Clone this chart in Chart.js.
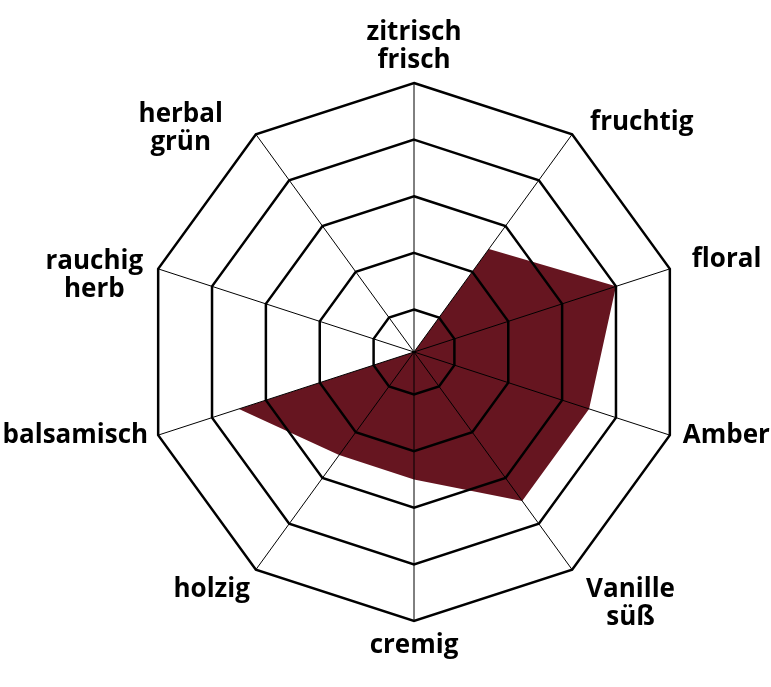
<!DOCTYPE html>
<html>
<head>
<meta charset="utf-8">
<script src="https://cdn.jsdelivr.net/npm/chart.js@4.4.1/dist/chart.umd.min.js"></script>
<style>
  html, body { margin: 0; padding: 0; background: #fff; }
  #wrap { width: 771px; height: 687px; }
</style>
</head>
<body>
<div id="wrap"><canvas id="radar"></canvas></div>
<script>
const labels = [["zitrisch", "frisch"], "fruchtig", "floral", "Amber", ["Vanille", "süß"],
  "cremig", "holzig", "balsamisch", ["rauchig", "herb"], ["herbal", "grün"]];
const values = [0, 2.5, 4, 3.5, 3.5, 2.5, 2.5, 3.5, 0, 0];
const tickValues = [1, 2, 3, 4, 5];
const scaleMin = 0.25;
const scaleMax = 5;

// label placement around each vertex: gap to the near text edge, first baseline offset
const labelGap = [0, 18, 22, 13, 14, 0, 6, 10, 15, 33];
const labelBase = [-43, -4, -2, 8, 27, 32, 27, 8, 0, -12];
const LINE_H = 28;
const FONT = 'bold 26px "Open Sans"';

const axisLabels = {
  id: 'axisLabels',
  afterDraw(chart) {
    const scale = chart.scales.r;
    const ctx = chart.ctx;
    ctx.save();
    ctx.font = FONT;
    ctx.fillStyle = '#000';
    ctx.textAlign = 'center';
    ctx.textBaseline = 'alphabetic';
    labels.forEach((lab, i) => {
      const lines = Array.isArray(lab) ? lab : [lab];
      const p = scale.getPointPosition(i, scale.drawingArea);
      const w = Math.max(...lines.map(l => ctx.measureText(l).width));
      let cx = p.x;
      if (p.x > scale.xCenter + 1) cx = p.x + labelGap[i] + w / 2;
      else if (p.x < scale.xCenter - 1) cx = p.x - labelGap[i] - w / 2;
      lines.forEach((l, k) => ctx.fillText(l, cx, p.y + labelBase[i] + k * LINE_H));
    });
    ctx.restore();
  }
};

new Chart(document.getElementById('radar'), {
  type: 'radar',
  data: {
    labels: labels,
    datasets: [{
      data: values.map(v => Math.max(v, scaleMin)),
      backgroundColor: '#661520',
      borderColor: 'rgba(0,0,0,0)',
      borderWidth: 0,
      pointRadius: 0,
      fill: true
    }]
  },
  options: {
    responsive: true,
    maintainAspectRatio: false,
    animation: false,
    layout: { padding: { top: 83, bottom: 66, left: 57, right: 0 } },
    plugins: { legend: { display: false }, tooltip: { enabled: false } },
    scales: {
      r: {
        min: scaleMin,
        max: scaleMax,
        afterBuildTicks: s => { s.ticks = [scaleMin, ...tickValues].map(v => ({ value: v })); },
        ticks: { display: false },
        pointLabels: { display: false },
        // z > 0: the web is drawn over the filled area
        grid: { color: '#000', lineWidth: 2.5, z: 1 },
        angleLines: { color: '#000', lineWidth: 1 }
      }
    }
  },
  plugins: [axisLabels]
});
</script>
</body>
</html>
